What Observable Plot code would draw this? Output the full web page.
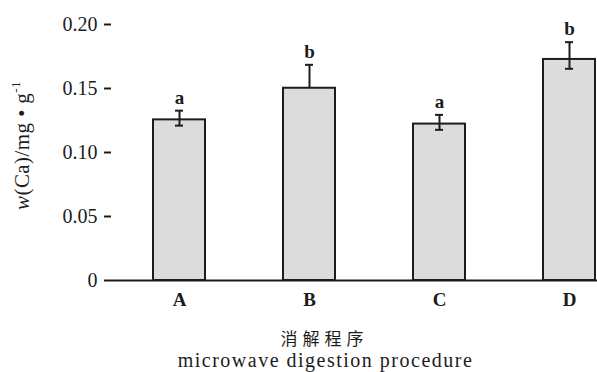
<!DOCTYPE html>
<html><head><meta charset="utf-8">
<script src="https://cdn.jsdelivr.net/npm/d3@7"></script>
<script src="https://cdn.jsdelivr.net/npm/@observablehq/plot@0.6"></script>
<style>body{margin:0;background:#fff}</style>
</head><body><div id="chart"></div>
<script>
const categories = ["A", "B", "C", "D"];
const values = [0.1255, 0.1502, 0.1222, 0.1727];
const errUp = [0.0072, 0.0183, 0.0072, 0.0135];
const errDown = [0.0045, 0, 0.0045, 0.0073];
const letters = ["a", "b", "a", "b"];
const yTicks = [0, 0.05, 0.10, 0.15, 0.20];
const yTitle = "w(Ca)/mg • g-1";
const xTitleZh = "消解程序";
const xTitleEn = "microwave digestion procedure";

const data = categories.map((c, i) => ({
  cat: c, v: values[i], lo: values[i] - errDown[i], hi: values[i] + errUp[i],
  hasLo: errDown[i] > 0, letter: letters[i]
}));
const ink = "#1c1c1c";
const serif = "'Liberation Serif', 'Times New Roman', serif";

const chart = Plot.plot({
  width: 597, height: 372,
  marginLeft: 111, marginRight: 0, marginTop: 24, marginBottom: 92,
  style: {fontFamily: serif, color: ink, background: "#fff"},
  x: {domain: categories, paddingInner: 0.6, paddingOuter: 0.156, align: 0.95},
  y: {domain: [0, 0.2]},
  marks: [
    Plot.barY(data, {x: "cat", y: "v", fill: "#dcdcdc", stroke: ink, strokeWidth: 2}),
    Plot.ruleX(data, {x: "cat", y1: "lo", y2: "hi", stroke: ink, strokeWidth: 2}),
    Plot.tickY(data, {x: "cat", y: "hi", stroke: ink, strokeWidth: 2, insetLeft: 22, insetRight: 22}),
    Plot.tickY(data.filter(d => d.hasLo), {x: "cat", y: "lo", stroke: ink, strokeWidth: 2, insetLeft: 22, insetRight: 22}),
    Plot.text(data, {x: "cat", y: "hi", text: "letter", lineAnchor: "bottom", dy: -7, fontSize: 19, fontWeight: "bold", fill: ink}),
    Plot.ruleY([0], {stroke: ink, strokeWidth: 2}),
    Plot.axisY({ticks: yTicks, tickSize: 7, tickPadding: 7, label: null, fontSize: 20,
      tickFormat: d => d === 0 ? "0" : d.toFixed(2), stroke: ink, strokeWidth: 2}),
    Plot.ruleX([0], {frameAnchor: "left", y1: 0, y2: 0.2, stroke: ink, strokeWidth: 2.2}),
    Plot.axisX({tickSize: 0, tickPadding: 12, label: null, fontSize: 19, fontWeight: "bold"}),
    Plot.text([yTitle], {frameAnchor: "left", rotate: -90, textAnchor: "middle", dx: -89, dy: -7, fontSize: 21, fill: ink}),
    Plot.text([xTitleZh], {frameAnchor: "bottom", dx: -30, dy: 59, lineAnchor: "middle", fontSize: 17, fill: ink}),
    Plot.text([xTitleEn], {frameAnchor: "bottom", dx: -29, dy: 80, lineAnchor: "middle", fontSize: 20, fill: ink})
  ]
});
document.getElementById("chart").appendChild(chart);

const svg = d3.select(chart);
svg.selectAll("text").style("font-family", serif);
svg.selectAll("text").filter(function() { return this.textContent === xTitleZh; })
  .style("font-family", "'Noto Sans CJK SC', sans-serif").style("letter-spacing", "5px");
svg.selectAll("text").filter(function() { return this.textContent === xTitleEn; })
  .style("letter-spacing", "1.5px");

// italic w and superscript -1 in the y title
svg.selectAll("text").filter(function() { return this.textContent === yTitle; })
  .each(function() {
    const t = d3.select(this);
    t.style("letter-spacing", "0.4px");
    t.text(null);
    t.append("tspan").style("font-style", "italic").text("w");
    t.append("tspan").text("(Ca)/mg • g");
    t.append("tspan").style("font-size", "13px").attr("dy", -9).text("-1");
  });
</script>
</body></html>
